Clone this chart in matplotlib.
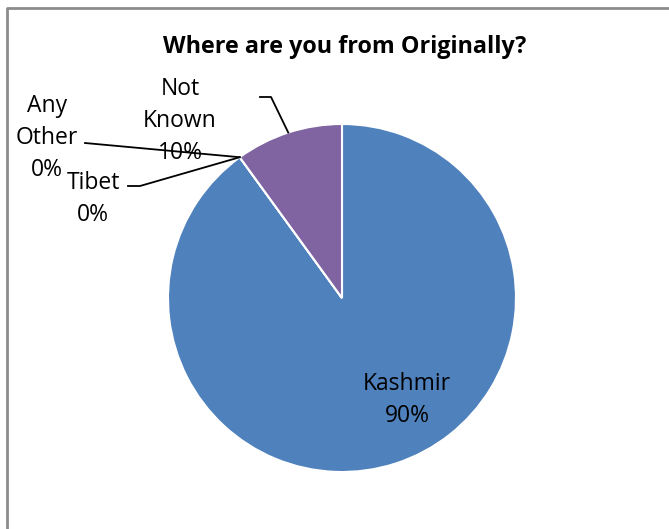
import numpy as np
import matplotlib.pyplot as plt

# Data
labels = ["Kashmir", "Tibet", "Any Other", "Not Known"]
values = [90, 0, 0, 10]
colors = ["#4F81BD", "#4F81BD", "#4F81BD", "#8064A2"]

W, H = 669, 529
fig = plt.figure(figsize=(W / 100, H / 100), dpi=100)
ax = fig.add_axes([0, 0, 1, 1])

# pie centre / radius in pixel coords (y measured from bottom)
cx, cy, r = 342, H - 298, 174
wedges, _ = ax.pie(values, colors=colors, startangle=90, counterclock=False,
                   center=(cx, cy), radius=r, frame=True,
                   wedgeprops=dict(edgecolor="white", linewidth=1.5))
ax.set_xlim(0, W)
ax.set_ylim(0, H)
ax.set_aspect("equal")
ax.axis("off")

# chart border (runs off right/bottom like the reference)
ax.plot([6.5, 6.5, W + 5], [-5, H - 7.5, H - 7.5], color="#8C8C8C", lw=2,
        clip_on=False)

font = "Open Sans"
ax.text(345, H - 47, "Where are you from Originally?", ha="center", va="center",
        fontsize=16.8, fontweight="bold", family=font)


def pt(theta):
    t = np.deg2rad(theta)
    return cx + r * np.cos(t), cy + r * np.sin(t)


pcts = [f"{v / sum(values) * 100:.0f}%" for v in values]
lbl_kw = dict(ha="center", va="center", fontsize=16.5, family=font,
              linespacing=1.42)

# Kashmir (inside)
ax.text(407, H - 400, f"{labels[0]}\n{pcts[0]}", **lbl_kw)

# Tibet & Any Other: zero slices, point at the slice boundary
bx, by = pt(wedges[1].theta1)
ax.text(93, H - 199, f"{labels[1]}\n{pcts[1]}", **lbl_kw)
ax.plot([128, 140, bx], [H - 186, H - 186, by], color="black", lw=1.3)
ax.text(47, H - 138, "Any\nOther\n" + pcts[2], **lbl_kw)
ax.plot([85, bx], [H - 143, by], color="black", lw=1.3)

# Not Known
w = wedges[3]
mx, my = pt((w.theta1 + w.theta2) / 2)
ax.text(180, H - 121, "Not\nKnown\n" + pcts[3], **lbl_kw)
ax.plot([260, 271, mx], [H - 97, H - 97, my], color="black", lw=1.3)

fig.savefig("out.png", dpi=100)
